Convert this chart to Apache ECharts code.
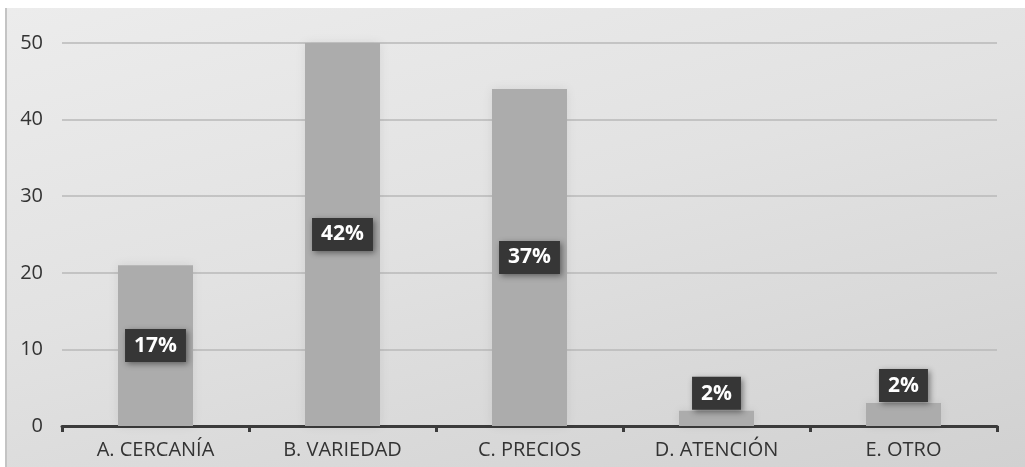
<!DOCTYPE html>
<html>
<head>
<meta charset="utf-8">
<script src="https://cdn.jsdelivr.net/npm/echarts@6/dist/echarts.min.js"></script>
<style>
  html, body { margin: 0; padding: 0; background: #ffffff; }
  #wrap { position: relative; width: 1025px; height: 467px; overflow: hidden; }
  #panel {
    position: absolute; left: 5px; top: 8px; width: 1018px; height: 459px;
    background: linear-gradient(165deg, #ececec 0%, #e2e2e2 45%, #d1d1d1 100%);
    border-left: 2px solid #c4c4c4; border-right: 1px solid #cfcfcf;
  }
  #chart { position: absolute; left: 0; top: 0; width: 1025px; height: 467px; }
</style>
</head>
<body>
<div id="wrap">
  <div id="panel"></div>
  <div id="chart"></div>
</div>
<script>
// Motivo de preferencia: respuestas por opción y su porcentaje
const categories = ['A. CERCANÍA', 'B. VARIEDAD', 'C. PRECIOS', 'D. ATENCIÓN', 'E. OTRO'];
const counts = [21, 50, 44, 2, 3];
const percentLabels = ['17%', '42%', '37%', '2%', '2%'];
const labelInside = [true, true, true, false, false];

const chart = echarts.init(document.getElementById('chart'), null, { renderer: 'canvas' });

const FONT = '"Open Sans", "Noto Sans", sans-serif';

const labelStyle = {
  show: true,
  formatter: p => percentLabels[p.dataIndex],
  color: '#ffffff',
  fontFamily: FONT,
  fontWeight: 'bold',
  fontSize: 21,
  lineHeight: 22,
  backgroundColor: '#363636',
  padding: [6, 9, 5, 9],
  shadowColor: 'rgba(0,0,0,0.45)',
  shadowBlur: 6,
  shadowOffsetX: 2,
  shadowOffsetY: 2
};

const seriesData = counts.map((v, i) => ({
  value: v,
  label: labelInside[i]
    ? { position: 'inside' }
    : { position: 'top', distance: 1 }
}));

chart.setOption({
  backgroundColor: 'transparent',
  animation: false,
  grid: { left: 62, right: 28, top: 43, bottom: 41, containLabel: false },
  xAxis: {
    type: 'category',
    data: categories,
    boundaryGap: true,
    axisLine: { show: true, lineStyle: { color: '#3b3b3b', width: 3 } },
    axisTick: { show: true, length: 6, lineStyle: { color: '#3b3b3b', width: 3 } },
    axisLabel: {
      color: '#333333',
      fontFamily: FONT,
      fontSize: 20,
      margin: 14
    },
    splitLine: { show: false }
  },
  yAxis: {
    type: 'value',
    min: 0,
    max: 50,
    interval: 10,
    axisLine: { show: false },
    axisTick: { show: false },
    axisLabel: {
      color: '#333333',
      fontFamily: FONT,
      fontSize: 20,
      margin: 19
    },
    splitLine: { show: true, lineStyle: { color: '#b9b9b9', width: 1.5 } }
  },
  series: [{
    type: 'bar',
    data: seriesData,
    barWidth: 75,
    itemStyle: {
      color: '#acacac',
      shadowColor: 'rgba(0,0,0,0.08)',
      shadowBlur: 10
    },
    label: labelStyle
  }]
});
</script>
</body>
</html>
